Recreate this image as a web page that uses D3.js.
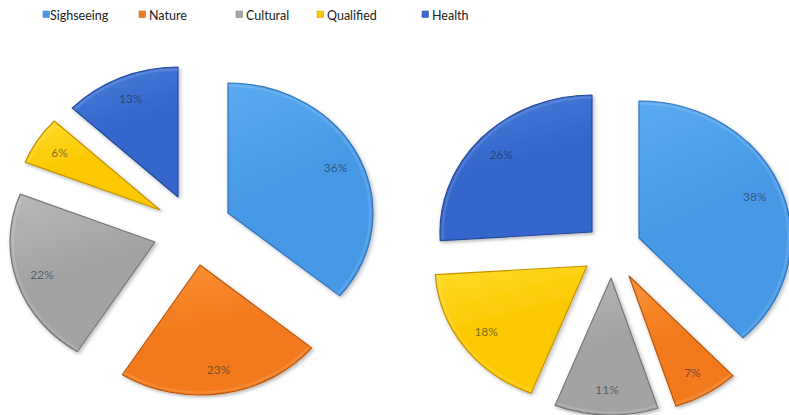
<!DOCTYPE html>
<html>
<head>
<meta charset="utf-8">
<script src="https://cdn.jsdelivr.net/npm/d3@7/dist/d3.min.js"></script>
<style>
  html, body { margin: 0; padding: 0; background: #ffffff; }
  svg { display: block; }
</style>
</head>
<body>
<svg id="chart" width="789" height="415"></svg>
<script>
// Categories and the two series of shares (percent)
const categories = ["Sighseeing", "Nature", "Cultural", "Qualified", "Health"];
const leftValues = [36, 23, 22, 6, 13];
const rightValues = [38, 7, 11, 18, 26];

// Slice colours: [light, base, dark]
const palette = [
  ["#5aaaf0", "#4698e6", "#2f74bd"],
  ["#fb9238", "#f27a1c", "#b9560c"],
  ["#b8b8b8", "#a3a3a3", "#777777"],
  ["#ffdc2a", "#fcc800", "#c49200"],
  ["#4a7fdc", "#3566cb", "#234a9c"]
];

// Layout of each pie: centre, horizontal / vertical radius, per-slice pull-out
const pies = [
  { values: leftValues,  cx: 200, cy: 225, rx: 145, ry: 130,
    pull: [[28, -12], [0, 40], [-45, 17], [-40, -15], [-22, -28]] },
  { values: rightValues, cx: 610, cy: 255, rx: 152, ry: 137,
    pull: [[29, -17], [19, 21], [1, 23], [-23, 11], [-18, -23]] }
];
const labelFrac = 0.82;
const legendX = [43, 139, 236, 317, 422];

const svg = d3.select("#chart");
const defs = svg.append("defs");

palette.forEach((c, i) => {
  const g = defs.append("linearGradient")
    .attr("id", "grad" + i).attr("x1", 0).attr("y1", 0).attr("x2", 0.3).attr("y2", 1);
  g.append("stop").attr("offset", "0%").attr("stop-color", c[0]);
  g.append("stop").attr("offset", "55%").attr("stop-color", c[1]);
  g.append("stop").attr("offset", "100%").attr("stop-color", c[1]);
});

const shadow = defs.append("filter").attr("id", "shadow")
  .attr("x", "-20%").attr("y", "-20%").attr("width", "140%").attr("height", "140%");
shadow.append("feDropShadow").attr("dx", 1.5).attr("dy", 2).attr("stdDeviation", 2)
  .attr("flood-color", "#000").attr("flood-opacity", 0.28);

const pie = d3.pie().sort(null).value(d => d);

pies.forEach(p => {
  const arcs = pie(p.values);
  const arc = d3.arc().innerRadius(0).outerRadius(p.rx);
  const k = p.ry / p.rx;
  const layer = svg.append("g");

  arcs.forEach((a, i) => {
    const tx = p.cx + p.pull[i][0];
    const ty = p.cy + p.pull[i][1];
    const g = layer.append("g").attr("transform", `translate(${tx},${ty})`);
    g.append("path")
      .attr("d", arc(a))
      .attr("transform", `scale(1,${k})`)
      .attr("fill", `url(#grad${i})`)
      .attr("stroke", palette[i][2])
      .attr("stroke-width", 1.2)
      .attr("stroke-linejoin", "round")
      .attr("vector-effect", "non-scaling-stroke")
      .attr("filter", "url(#shadow)");
    // soft bevel highlight along the rim
    g.append("path")
      .attr("d", d3.arc().innerRadius(p.rx - 4).outerRadius(p.rx - 1.5)(a))
      .attr("transform", `scale(1,${k})`)
      .attr("fill", "#ffffff")
      .attr("opacity", 0.12);

    const mid = (a.startAngle + a.endAngle) / 2;
    g.append("text")
      .attr("x", labelFrac * p.rx * Math.sin(mid))
      .attr("y", -labelFrac * p.ry * Math.cos(mid))
      .attr("dy", "0.35em")
      .attr("text-anchor", "middle")
      .attr("font-family", "Lato, 'Open Sans', sans-serif")
      .attr("font-size", 12)
      .attr("fill", "#1e2a3a")
      .attr("fill-opacity", 0.6)
      .text(a.data + "%");
  });
});

// Legend
const legend = svg.append("g");
categories.forEach((name, i) => {
  const g = legend.append("g").attr("transform", `translate(${legendX[i]},0)`);
  g.append("rect")
    .attr("x", 0).attr("y", 11).attr("width", 6.5).attr("height", 6.5)
    .attr("fill", `url(#grad${i})`)
    .attr("stroke", palette[i][2]).attr("stroke-width", 0.5);
  g.append("text")
    .attr("x", i === 0 ? 7 : 10).attr("y", 20)
    .attr("font-family", "Lato, 'Open Sans', sans-serif")
    .attr("font-size", 12.5)
    .attr("fill", "#222")
    .text(name);
});
</script>
</body>
</html>
